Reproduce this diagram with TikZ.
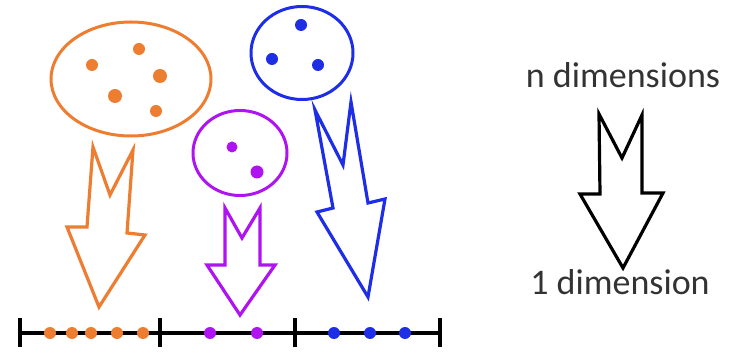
\documentclass[tikz,border=0pt]{standalone}
\usepackage{fontspec}
\setmainfont{Carlito}
\usetikzlibrary{shapes.geometric}
\definecolor{orng}{RGB}{237,125,49}
\definecolor{purp}{RGB}{175,20,240}
\definecolor{blu}{RGB}{30,45,230}
\tikzset{
  grp/.style = {draw, ellipse, line width=3pt, inner sep=0pt},
  fat/.style = {line width=3.2pt, line join=miter},
  ax/.style  = {line width=3.2pt, black},
  lbl/.style = {font=\fontsize{36}{40}\selectfont, text=black!80},
}

\begin{document}
\begin{tikzpicture}[x=1pt, y=-1pt]
  \useasboundingbox (0,0) rectangle (730,352);
  % groups in n dimensions
  \node[grp, orng, minimum width=160pt, minimum height=114pt] (og) at (131,79) {};
  \node[grp, blu,  minimum width=102pt, minimum height=93pt]  (bg) at (302,53) {};
  \node[grp, purp, minimum width=94pt,  minimum height=85pt]  (pg) at (240,153) {};
  \foreach \p/\r in {(92,65)/6, (139,49)/6, (160,76)/7, (115,96)/7, (156,111)/6}
    \fill[orng] \p circle (\r);
  \foreach \p in {(301,25), (272,59), (318,65)}
    \fill[blu] \p circle (6);
  \foreach \p/\r in {(232,147)/5.5, (257,172)/6.5}
    \fill[purp] \p circle (\r);
  % projection arrows
  \draw[fat, orng] (93,147) -- (110,195) -- (133,150) -- (127,233) -- (145,235)
    -- (99,307) -- (67,227) -- (87,227) -- cycle;
  \draw[fat, purp] (225,208) -- (242,238) -- (260,208) -- (260,265) -- (275,265)
    -- (240,315) -- (207,265) -- (225,265) -- cycle;
  \draw[fat, blu] (315,110) -- (343,165) -- (351,102) -- (368,203) -- (385,199)
    -- (368,297) -- (317,212) -- (333,208) -- cycle;
  % the line
  \draw[ax] (20,333) -- (440,333);
  \foreach \x in {20,160,295,440}
    \draw[ax] (\x,318) -- (\x,347);
  \foreach \x in {50,72,91,117,143}
    \fill[orng] (\x,333) circle (6);
  \foreach \x in {210,257}
    \fill[purp] (\x,333) circle (6);
  \foreach \x in {334,370,405}
    \fill[blu] (\x,333) circle (6);
  % legend
  \node[lbl] (hi) at (623,75) {n dimensions};
  \node[lbl] (lo) at (620,282) {1 dimension};
  \draw[fat, black] (599,114) -- (622,158) -- (642,115) -- (642,193) -- (663,193)
    -- (623,268) -- (580,194) -- (600,194) -- cycle;
\end{tikzpicture}
\end{document}
